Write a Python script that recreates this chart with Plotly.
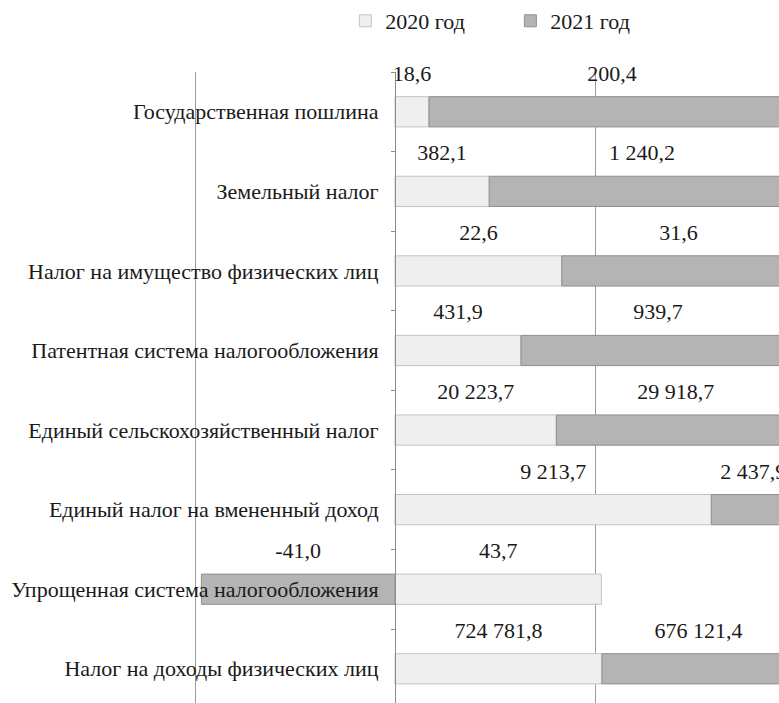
import plotly.graph_objects as go

categories = [
    "Государственная пошлина",
    "Земельный налог",
    "Налог на имущество физических лиц",
    "Патентная система налогообложения",
    "Единый сельскохозяйственный налог",
    "Единый налог на вмененный доход",
    "Упрощенная система налогообложения",
    "Налог на доходы физических лиц",
]
v2020 = [18.6, 382.1, 22.6, 431.9, 20223.7, 9213.7, 43.7, 724781.8]
v2021 = [200.4, 1240.2, 31.6, 939.7, 29918.7, 2437.9, -41.0, 676121.4]
years = ["2020 год", "2021 год"]

FONT = "Liberation Serif"
FS = 22
TXT = "#1a1a1a"


def share(a, b):
    return a / (abs(a) + abs(b)) * 100.0


def fmt(v):
    return f"{v:,.1f}".replace(",", " ").replace(".", ",")


s2020 = [share(a, b) for a, b in zip(v2020, v2021)]
s2021 = [share(b, a) for a, b in zip(v2020, v2021)]
idx = list(range(len(categories)))

fig = go.Figure()
fig.add_trace(go.Bar(
    y=idx, x=s2020, orientation="h", name=years[0], width=0.38,
    marker=dict(color="#efefef", line=dict(color="#c4c4c4", width=1)),
    hoverinfo="skip",
))
fig.add_trace(go.Bar(
    y=idx, x=s2021, orientation="h", name=years[1], width=0.38,
    marker=dict(color="#b4b4b4", line=dict(color="#8f8f8f", width=1)),
    hoverinfo="skip",
))

# value labels: centred on each segment, above the bar
lx, ly, lt = [], [], []
for i in idx:
    a, b = s2020[i], s2021[i]
    lx.append(a / 2.0)
    ly.append(i - 0.46)
    lt.append(fmt(v2020[i]))
    if b >= 0:
        lx.append(a + b / 2.0)
    else:
        lx.append(b / 2.0)
    ly.append(i - 0.46)
    lt.append(fmt(v2021[i]))

fig.add_trace(go.Scatter(
    x=lx, y=ly, text=lt, mode="text", textposition="middle center",
    textfont=dict(family=FONT, size=FS, color=TXT),
    showlegend=False, hoverinfo="skip", cliponaxis=False,
))

xmin, xmax = -50.5, 96
fig.update_layout(
    width=779, height=703,
    margin=dict(l=193, r=0, t=71, b=0),
    barmode="relative",
    plot_bgcolor="white", paper_bgcolor="white",
    font=dict(family=FONT, size=FS, color=TXT),
    legend=dict(orientation="h", x=0.26, xanchor="left", y=1.08, yanchor="middle",
                entrywidth=120, itemwidth=30,
                font=dict(family=FONT, size=22, color=TXT)),
)
fig.update_xaxes(
    range=[xmin, xmax], tick0=0, dtick=50, showgrid=True, gridcolor="#9c9c9c",
    gridwidth=1, zeroline=False, showticklabels=False, ticks="",
)
fig.update_yaxes(
    range=[len(categories) - 0.57, -0.5], tickvals=idx, ticktext=categories,
    anchor="free", position=(0 - xmin) / (xmax - xmin),
    showline=True, linecolor="#8c8c8c", linewidth=1, ticks="",
    ticklabelstandoff=12, showgrid=False, zeroline=False,
    minor=dict(tickvals=[i - 0.5 for i in range(len(categories) + 1)], ticks="outside",
               ticklen=4, tickcolor="#8c8c8c", showgrid=False),
)

fig.write_html("out.html", config={"displayModeBar": False},
               post_script="document.body.style.margin='0';document.body.style.overflow='hidden';")
